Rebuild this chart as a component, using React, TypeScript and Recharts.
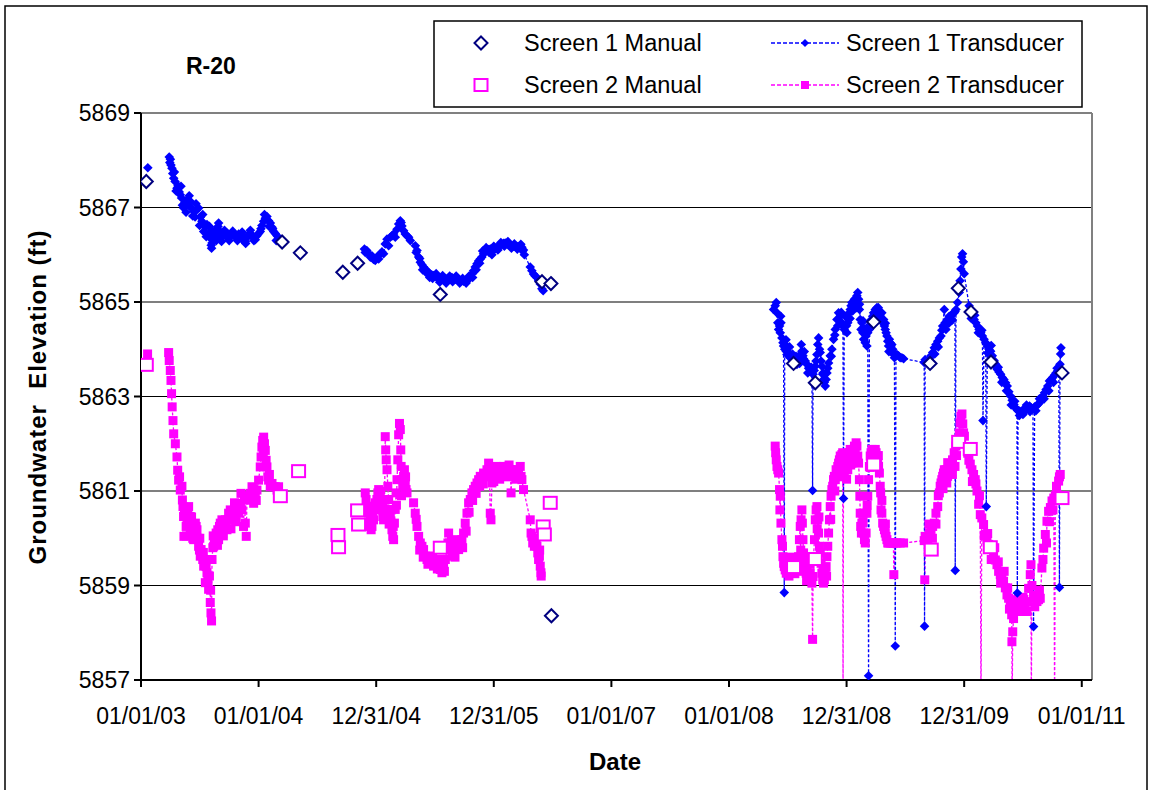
import * as React from "react"
import {
  CartesianGrid,
  ComposedChart,
  Line,
  ReferenceLine,
  Scatter,
  XAxis,
  YAxis,
} from "recharts"

type Pt = [number, number | null]

// x values are decimal years (365.25-day years, matching the axis major unit)
const xTicks = [2003, 2004, 2005, 2006, 2007, 2008, 2009, 2010, 2011]
const xTickLabels = [
  "01/01/03",
  "01/01/04",
  "12/31/04",
  "12/31/05",
  "01/01/07",
  "01/01/08",
  "12/31/08",
  "12/31/09",
  "01/01/11",
]
const yTicks = [5857, 5859, 5861, 5863, 5865, 5867, 5869]

const screen1Manual: Pt[] = [
  [2003.045, 5867.55], [2004.2, 5866.27], [2004.355, 5866.04], [2004.716, 5865.63],
  [2004.842, 5865.82], [2005.545, 5865.16], [2006.41, 5865.43], [2006.486, 5865.39],
  [2006.49, 5858.36], [2008.549, 5863.7], [2008.734, 5863.29], [2009.23, 5864.58],
  [2009.71, 5863.7], [2009.95, 5865.29], [2010.058, 5864.79], [2010.228, 5863.73],
  [2010.832, 5863.5],
]

const screen2Manual: Pt[] = [
  [2003.045, 5863.67], [2004.185, 5860.89], [2004.34, 5861.42], [2004.675, 5860.07],
  [2004.68, 5859.81], [2004.842, 5860.59], [2004.85, 5860.29], [2005.545, 5859.8],
  [2006.42, 5860.25], [2006.43, 5860.08], [2006.48, 5860.75], [2008.549, 5859.39],
  [2008.734, 5859.56], [2009.23, 5861.56], [2009.72, 5859.76], [2009.953, 5862.04],
  [2010.052, 5861.89], [2010.222, 5859.81], [2010.832, 5860.85],
]

const screen1Transducer: Pt[] = [
  [2003.058, 5867.84],
  [2003.15, null],
  [2003.24, 5868.07], [2003.245, 5867.95], [2003.25, 5868.02], [2003.255, 5867.9],
  [2003.263, 5867.83], [2003.27, 5867.72], [2003.278, 5867.62], [2003.284, 5867.75],
  [2003.29, 5867.55], [2003.298, 5867.35], [2003.306, 5867.41], [2003.315, 5867.46],
  [2003.325, 5867.33], [2003.334, 5867.27], [2003.34, 5867.45], [2003.345, 5867.2],
  [2003.352, 5867.05], [2003.363, 5866.99], [2003.375, 5867.1], [2003.383, 5866.9],
  [2003.391, 5867.16], [2003.405, 5867.05], [2003.41, 5867.25], [2003.419, 5867.13],
  [2003.432, 5866.98], [2003.44, 5866.82], [2003.448, 5866.92], [2003.46, 5866.8],
  [2003.468, 5867.08], [2003.475, 5866.95], [2003.49, 5866.99], [2003.498, 5866.62],
  [2003.505, 5866.8], [2003.518, 5866.71], [2003.525, 5866.85], [2003.533, 5866.49],
  [2003.547, 5866.58], [2003.555, 5866.38], [2003.561, 5866.64], [2003.575, 5866.45],
  [2003.582, 5866.6], [2003.589, 5866.35], [2003.597, 5866.2], [2003.6, 5866.14],
  [2003.604, 5866.25], [2003.61, 5866.5], [2003.618, 5866.4], [2003.632, 5866.42],
  [2003.64, 5866.3], [2003.646, 5866.55], [2003.655, 5866.6], [2003.66, 5866.67],
  [2003.667, 5866.5], [2003.674, 5866.35], [2003.685, 5866.28], [2003.69, 5866.4],
  [2003.703, 5866.45], [2003.71, 5866.52], [2003.717, 5866.4], [2003.731, 5866.46],
  [2003.745, 5866.42], [2003.75, 5866.3], [2003.76, 5866.4], [2003.774, 5866.43],
  [2003.78, 5866.5], [2003.788, 5866.42], [2003.8, 5866.38], [2003.816, 5866.4],
  [2003.82, 5866.3], [2003.83, 5866.44], [2003.844, 5866.39], [2003.858, 5866.33],
  [2003.86, 5866.48], [2003.872, 5866.38], [2003.887, 5866.28], [2003.89, 5866.24],
  [2003.9, 5866.36], [2003.915, 5866.43], [2003.929, 5866.46], [2003.93, 5866.52],
  [2003.943, 5866.4], [2003.957, 5866.36], [2003.96, 5866.3], [2003.972, 5866.32],
  [2003.986, 5866.4], [2004.0, 5866.45], [2004.014, 5866.49], [2004.02, 5866.55],
  [2004.028, 5866.62], [2004.043, 5866.71], [2004.05, 5866.85], [2004.057, 5866.77],
  [2004.071, 5866.81], [2004.085, 5866.72], [2004.09, 5866.6], [2004.1, 5866.67],
  [2004.114, 5866.58], [2004.12, 5866.55], [2004.128, 5866.49], [2004.142, 5866.45],
  [2004.15, 5866.3], [2004.157, 5866.4], [2004.17, 5866.35],
  [2004.5, null],
  [2004.9, 5866.12], [2004.907, 5866.05], [2004.92, 5866.09], [2004.936, 5866.02],
  [2004.95, 5865.95], [2004.964, 5865.98], [2004.978, 5865.9], [2004.992, 5865.88],
  [2005.006, 5865.95], [2005.021, 5865.91], [2005.035, 5866.02], [2005.049, 5866.06],
  [2005.063, 5866.02], [2005.077, 5866.23], [2005.092, 5866.33], [2005.106, 5866.19],
  [2005.12, 5866.37], [2005.134, 5866.4], [2005.148, 5866.44], [2005.162, 5866.37],
  [2005.177, 5866.54], [2005.191, 5866.65], [2005.205, 5866.72], [2005.212, 5866.68],
  [2005.219, 5866.61], [2005.233, 5866.51], [2005.247, 5866.44], [2005.262, 5866.4],
  [2005.276, 5866.37], [2005.29, 5866.3], [2005.333, 5866.19], [2005.347, 5866.09],
  [2005.361, 5865.95], [2005.375, 5865.84], [2005.389, 5865.79], [2005.403, 5865.74],
  [2005.417, 5865.7], [2005.432, 5865.66], [2005.446, 5865.62], [2005.46, 5865.59],
  [2005.474, 5865.57], [2005.488, 5865.56], [2005.502, 5865.54], [2005.517, 5865.52],
  [2005.531, 5865.51], [2005.545, 5865.49], [2005.559, 5865.49], [2005.573, 5865.46],
  [2005.588, 5865.45], [2005.602, 5865.48], [2005.616, 5865.49], [2005.63, 5865.5],
  [2005.644, 5865.52], [2005.658, 5865.49], [2005.672, 5865.48], [2005.687, 5865.49],
  [2005.7, 5865.47], [2005.715, 5865.45], [2005.729, 5865.45], [2005.743, 5865.44],
  [2005.757, 5865.45], [2005.772, 5865.45], [2005.786, 5865.48], [2005.8, 5865.52],
  [2005.814, 5865.59], [2005.828, 5865.66], [2005.842, 5865.74], [2005.857, 5865.81],
  [2005.871, 5865.87], [2005.885, 5865.91], [2005.899, 5865.95], [2005.913, 5866.02],
  [2005.927, 5866.06], [2005.942, 5866.09], [2005.956, 5866.11], [2005.97, 5866.12],
  [2005.984, 5866.0], [2005.998, 5866.09], [2006.012, 5866.14], [2006.027, 5866.16],
  [2006.041, 5866.18], [2006.055, 5866.2], [2006.069, 5866.22], [2006.083, 5866.24],
  [2006.097, 5866.25], [2006.112, 5866.24], [2006.126, 5866.22], [2006.14, 5866.2],
  [2006.154, 5866.19], [2006.168, 5866.18], [2006.182, 5866.17], [2006.196, 5866.18],
  [2006.21, 5866.17], [2006.225, 5866.17], [2006.239, 5866.16], [2006.253, 5866.1],
  [2006.26, 5866.0], [2006.31, 5865.74], [2006.324, 5865.66], [2006.338, 5865.59],
  [2006.352, 5865.55], [2006.367, 5865.52], [2006.381, 5865.45], [2006.395, 5865.38],
  [2006.409, 5865.28], [2006.42, 5865.24],
  // band spread, 2005-2006
  [2005.34, 5866.05], [2005.37, 5865.92], [2005.395, 5865.68], [2005.425, 5865.62],
  [2005.455, 5865.52], [2005.48, 5865.5], [2005.51, 5865.6], [2005.54, 5865.42],
  [2005.565, 5865.56], [2005.595, 5865.4], [2005.625, 5865.55], [2005.65, 5865.43],
  [2005.68, 5865.55], [2005.71, 5865.4], [2005.735, 5865.5], [2005.765, 5865.4],
  [2005.79, 5865.55], [2005.82, 5865.52], [2005.85, 5865.68], [2005.88, 5865.82],
  [2005.905, 5866.08], [2005.935, 5866.15], [2005.96, 5866.05], [2006.0, 5866.18],
  [2006.035, 5866.1], [2006.06, 5866.26], [2006.09, 5866.18], [2006.12, 5866.28],
  [2006.15, 5866.14], [2006.175, 5866.23], [2006.2, 5866.12], [2006.23, 5866.22],
  [2006.245, 5866.08],
  [2007.5, null],
  [2008.379, 5864.84], [2008.393, 5864.92], [2008.402, 5864.99], [2008.408, 5864.77],
  [2008.415, 5864.56], [2008.422, 5864.42], [2008.43, 5864.49], [2008.436, 5864.35],
  [2008.442, 5864.56], [2008.45, 5864.24], [2008.459, 5864.14], [2008.464, 5864.07],
  [2008.47, 5858.85], [2008.474, 5864.0], [2008.478, 5864.1], [2008.487, 5863.96],
  [2008.493, 5863.89], [2008.507, 5863.93], [2008.521, 5863.82], [2008.535, 5863.78],
  [2008.549, 5863.75], [2008.563, 5863.71], [2008.578, 5863.68], [2008.592, 5863.82],
  [2008.606, 5863.89], [2008.62, 5863.96], [2008.629, 5863.86], [2008.634, 5863.8],
  [2008.649, 5863.75], [2008.663, 5863.68], [2008.677, 5863.6], [2008.691, 5863.57],
  [2008.705, 5863.5], [2008.711, 5861.01], [2008.715, 5863.47], [2008.725, 5863.55],
  [2008.734, 5863.64], [2008.748, 5863.89], [2008.755, 5864.1], [2008.762, 5864.24],
  [2008.776, 5863.93], [2008.783, 5863.75], [2008.79, 5863.64], [2008.797, 5863.47],
  [2008.804, 5863.36], [2008.811, 5863.3], [2008.819, 5863.22], [2008.826, 5863.36],
  [2008.833, 5863.5], [2008.847, 5863.71], [2008.861, 5863.86], [2008.875, 5864.0],
  [2008.889, 5864.21], [2008.904, 5864.42], [2008.918, 5864.63], [2008.932, 5864.77],
  [2008.946, 5864.7], [2008.96, 5864.56], [2008.969, 5864.49], [2008.974, 5860.84],
  [2008.98, 5864.42], [2008.989, 5864.7], [2009.003, 5864.35], [2009.01, 5864.56],
  [2009.017, 5864.63], [2009.024, 5864.77], [2009.031, 5864.84], [2009.038, 5864.92],
  [2009.045, 5864.99], [2009.052, 5864.81], [2009.06, 5864.92], [2009.067, 5865.06],
  [2009.074, 5864.99], [2009.081, 5864.88], [2009.088, 5865.13], [2009.095, 5865.2],
  [2009.102, 5865.06], [2009.109, 5864.84], [2009.116, 5864.63], [2009.123, 5864.42],
  [2009.13, 5864.56], [2009.138, 5864.35], [2009.145, 5864.21], [2009.152, 5864.42],
  [2009.159, 5864.14], [2009.166, 5864.28], [2009.173, 5864.07], [2009.18, 5864.35],
  [2009.187, 5857.09], [2009.194, 5864.42], [2009.201, 5864.49], [2009.208, 5864.56],
  [2009.215, 5864.63], [2009.222, 5864.7], [2009.23, 5864.77], [2009.237, 5864.7],
  [2009.244, 5864.84], [2009.251, 5864.77], [2009.258, 5864.88], [2009.265, 5864.77],
  [2009.272, 5864.7], [2009.279, 5864.81], [2009.286, 5864.7], [2009.293, 5864.63],
  [2009.3, 5864.77], [2009.307, 5864.56], [2009.315, 5864.63], [2009.322, 5864.49],
  [2009.329, 5864.42], [2009.336, 5864.35], [2009.343, 5864.28], [2009.35, 5864.17],
  [2009.357, 5864.07], [2009.364, 5864.21], [2009.371, 5864.14], [2009.378, 5864.07],
  [2009.385, 5864.1], [2009.392, 5864.0], [2009.4, 5863.89], [2009.407, 5863.82],
  [2009.414, 5857.72], [2009.42, 5863.86], [2009.428, 5863.89], [2009.442, 5863.86],
  [2009.456, 5863.82], [2009.47, 5863.82], [2009.485, 5863.8], [2009.66, 5863.72],
  [2009.663, 5858.14], [2009.668, 5863.78], [2009.69, 5863.71], [2009.704, 5863.8],
  [2009.718, 5863.86], [2009.732, 5863.93], [2009.746, 5864.03], [2009.76, 5864.1],
  [2009.775, 5864.17], [2009.789, 5864.24], [2009.803, 5864.28], [2009.817, 5864.49],
  [2009.831, 5864.84], [2009.838, 5864.56], [2009.845, 5864.42], [2009.852, 5864.56],
  [2009.859, 5864.63], [2009.873, 5864.7], [2009.887, 5864.7], [2009.901, 5864.75],
  [2009.915, 5864.77], [2009.922, 5864.8], [2009.924, 5859.32], [2009.93, 5864.84],
  [2009.944, 5864.99], [2009.958, 5865.2], [2009.965, 5865.45], [2009.972, 5865.7],
  [2009.979, 5865.95], [2009.986, 5866.02], [2009.993, 5865.85], [2010.0, 5865.6],
  [2010.042, 5864.92], [2010.056, 5864.77], [2010.07, 5864.7], [2010.085, 5864.63],
  [2010.099, 5864.56], [2010.113, 5864.49], [2010.127, 5864.42], [2010.141, 5864.35],
  [2010.155, 5864.28], [2010.16, 5862.49], [2010.169, 5864.21], [2010.183, 5864.14],
  [2010.188, 5860.67], [2010.197, 5864.07], [2010.211, 5864.0], [2010.225, 5863.96],
  [2010.239, 5863.86], [2010.254, 5863.76], [2010.268, 5863.68], [2010.282, 5863.57],
  [2010.296, 5863.52], [2010.31, 5863.47], [2010.324, 5863.4], [2010.338, 5863.36],
  [2010.352, 5863.29], [2010.366, 5863.22], [2010.38, 5863.1], [2010.394, 5863.01],
  [2010.408, 5862.92], [2010.423, 5862.83], [2010.437, 5862.76], [2010.449, 5862.72],
  [2010.452, 5858.84], [2010.458, 5862.7], [2010.472, 5862.69], [2010.486, 5862.66],
  [2010.5, 5862.72], [2010.514, 5862.69], [2010.528, 5862.74], [2010.542, 5862.76],
  [2010.556, 5862.8], [2010.57, 5862.76], [2010.585, 5862.74], [2010.59, 5858.13],
  [2010.599, 5862.78], [2010.613, 5862.8], [2010.627, 5862.83], [2010.641, 5862.87],
  [2010.655, 5862.92], [2010.669, 5863.01], [2010.683, 5863.08], [2010.697, 5863.15],
  [2010.711, 5863.22], [2010.725, 5863.33], [2010.739, 5863.36], [2010.753, 5863.4],
  [2010.767, 5863.45], [2010.781, 5863.5], [2010.795, 5863.54], [2010.805, 5863.5],
  [2010.81, 5858.96], [2010.815, 5863.68], [2010.82, 5863.9], [2010.823, 5864.03],
  // band spread, 2008-2010
  [2008.44, 5864.7], [2008.485, 5864.2], [2008.515, 5864.05], [2008.54, 5863.9],
  [2008.57, 5863.85], [2008.6, 5863.7], [2008.615, 5864.1], [2008.64, 5863.95],
  [2008.67, 5863.5], [2008.7, 5863.62], [2008.74, 5863.75], [2008.77, 5864.0],
  [2008.8, 5863.5], [2008.84, 5863.6], [2008.87, 5863.85], [2008.9, 5864.3],
  [2008.925, 5864.5], [2008.955, 5864.78], [2009.0, 5864.5], [2009.03, 5864.65],
  [2009.055, 5864.95], [2009.11, 5864.95], [2009.14, 5864.6], [2009.17, 5864.45],
  [2009.2, 5864.6], [2009.24, 5864.6], [2009.27, 5864.88], [2009.3, 5864.6],
  [2009.33, 5864.55], [2009.36, 5863.95], [2009.39, 5863.95], [2009.72, 5863.72],
  [2009.75, 5863.9], [2009.78, 5864.05], [2009.81, 5864.4], [2009.87, 5864.55],
  [2009.9, 5864.62], [2010.06, 5864.65], [2010.09, 5864.72], [2010.12, 5864.35],
  [2010.15, 5864.4], [2010.2, 5863.92], [2010.23, 5864.08], [2010.26, 5863.65],
  [2010.29, 5863.62], [2010.32, 5863.3], [2010.36, 5863.12], [2010.4, 5862.82],
  [2010.43, 5862.9], [2010.47, 5862.6], [2010.5, 5862.62], [2010.53, 5862.82],
  [2010.56, 5862.68], [2010.61, 5862.7], [2010.64, 5862.95], [2010.68, 5862.95],
  [2010.72, 5863.12], [2010.76, 5863.3], [2010.79, 5863.6],
]

const screen2Transducer: Pt[] = [
  [2003.056, 5863.9],
  [2003.15, null],
  [2003.235, 5863.93], [2003.24, 5863.76], [2003.249, 5863.55], [2003.255, 5863.34],
  [2003.26, 5863.06], [2003.265, 5862.78], [2003.272, 5862.49], [2003.278, 5862.21],
  [2003.292, 5862.0], [2003.306, 5861.72], [2003.312, 5861.44], [2003.32, 5861.23],
  [2003.334, 5861.02], [2003.348, 5861.1], [2003.352, 5860.81], [2003.357, 5860.67],
  [2003.362, 5860.46], [2003.365, 5860.04], [2003.37, 5860.6], [2003.377, 5860.46],
  [2003.384, 5860.25], [2003.391, 5860.32], [2003.398, 5860.6], [2003.405, 5860.67],
  [2003.412, 5860.39], [2003.419, 5860.46], [2003.426, 5860.2], [2003.433, 5860.11],
  [2003.44, 5860.0], [2003.448, 5859.97], [2003.455, 5860.2], [2003.462, 5860.32],
  [2003.469, 5860.25], [2003.476, 5860.18], [2003.483, 5860.0], [2003.49, 5859.83],
  [2003.497, 5859.75], [2003.504, 5859.62], [2003.511, 5859.76], [2003.518, 5859.69],
  [2003.525, 5859.55], [2003.533, 5859.41], [2003.54, 5859.55], [2003.547, 5859.06],
  [2003.554, 5859.4], [2003.561, 5859.27], [2003.568, 5859.1], [2003.575, 5858.92],
  [2003.582, 5859.2], [2003.589, 5858.64], [2003.592, 5858.9], [2003.595, 5858.42],
  [2003.6, 5858.25], [2003.604, 5859.55], [2003.611, 5859.8], [2003.618, 5859.83],
  [2003.625, 5860.0], [2003.632, 5859.97], [2003.639, 5860.11], [2003.646, 5860.04],
  [2003.653, 5860.18], [2003.66, 5859.97], [2003.667, 5860.25], [2003.674, 5860.32],
  [2003.681, 5860.25], [2003.688, 5860.39], [2003.702, 5860.32], [2003.717, 5860.39],
  [2003.724, 5860.25], [2003.731, 5860.18], [2003.738, 5860.39], [2003.745, 5860.53],
  [2003.752, 5860.46], [2003.759, 5860.6], [2003.773, 5860.46], [2003.788, 5860.53],
  [2003.802, 5860.46], [2003.816, 5860.6], [2003.83, 5860.53], [2003.844, 5860.74],
  [2003.858, 5860.6], [2003.872, 5860.25], [2003.887, 5860.32], [2003.895, 5860.04],
  [2003.901, 5860.81], [2003.915, 5860.88], [2003.929, 5860.95], [2003.936, 5860.81],
  [2003.944, 5861.09], [2003.958, 5860.74], [2003.965, 5860.95], [2003.972, 5860.88],
  [2003.986, 5861.02], [2004.0, 5861.23], [2004.014, 5861.51], [2004.021, 5861.72],
  [2004.028, 5861.93], [2004.035, 5862.07], [2004.043, 5862.14], [2004.05, 5862.0],
  [2004.057, 5861.86], [2004.064, 5861.65], [2004.071, 5861.51], [2004.078, 5861.3],
  [2004.085, 5861.23], [2004.099, 5861.09], [2004.114, 5861.16], [2004.128, 5861.09],
  [2004.142, 5861.09], [2004.157, 5861.02], [2004.17, 5861.09],
  // band spread, 2003
  [2003.328, 5861.3], [2003.387, 5860.05], [2003.43, 5860.45], [2003.465, 5860.05],
  [2003.5, 5860.0], [2003.53, 5859.7], [2003.565, 5859.55], [2003.614, 5860.05],
  [2003.65, 5859.85], [2003.695, 5860.1], [2003.7, 5860.05], [2003.765, 5860.2],
  [2003.795, 5860.75], [2003.81, 5860.35], [2003.85, 5860.95], [2003.88, 5860.9],
  [2003.95, 5861.05], [2003.98, 5860.8], [2004.04, 5861.8], [2004.092, 5861.35],
  [2004.5, null],
  [2004.907, 5860.96], [2004.914, 5860.82], [2004.921, 5860.68], [2004.936, 5860.53],
  [2004.95, 5860.39], [2004.957, 5860.18], [2004.964, 5860.25], [2004.971, 5860.46],
  [2004.978, 5860.39], [2004.985, 5860.61], [2004.992, 5860.75], [2005.006, 5860.82],
  [2005.014, 5860.96], [2005.021, 5861.03], [2005.028, 5860.89], [2005.035, 5860.99],
  [2005.042, 5860.82], [2005.049, 5860.61], [2005.056, 5860.46], [2005.063, 5860.39],
  [2005.07, 5860.53], [2005.077, 5862.15], [2005.081, 5861.87], [2005.085, 5861.66],
  [2005.092, 5861.45], [2005.099, 5861.1], [2005.106, 5860.82], [2005.113, 5860.61],
  [2005.12, 5860.46], [2005.127, 5860.32], [2005.134, 5860.18], [2005.141, 5860.04],
  [2005.148, 5859.97], [2005.155, 5860.32], [2005.162, 5860.61], [2005.169, 5860.96],
  [2005.177, 5861.24], [2005.184, 5861.66], [2005.191, 5862.19], [2005.198, 5862.43],
  [2005.205, 5862.3], [2005.209, 5861.87], [2005.212, 5861.52], [2005.219, 5861.24],
  [2005.226, 5861.1], [2005.233, 5861.31], [2005.24, 5861.45], [2005.247, 5861.17],
  [2005.254, 5861.03], [2005.262, 5860.96], [2005.318, 5860.75], [2005.332, 5860.53],
  [2005.347, 5860.25], [2005.361, 5860.04], [2005.375, 5859.9], [2005.389, 5859.83],
  [2005.403, 5859.76], [2005.417, 5859.62], [2005.432, 5859.55], [2005.446, 5859.62],
  [2005.46, 5859.48], [2005.474, 5859.55], [2005.488, 5859.41], [2005.502, 5859.48],
  [2005.517, 5859.55], [2005.531, 5859.41], [2005.545, 5859.34], [2005.559, 5859.27],
  [2005.573, 5859.41], [2005.588, 5859.55], [2005.602, 5859.76], [2005.616, 5860.11],
  [2005.623, 5859.9], [2005.63, 5859.76], [2005.644, 5859.62], [2005.658, 5859.69],
  [2005.672, 5859.83], [2005.687, 5859.97], [2005.701, 5859.76], [2005.715, 5859.83],
  [2005.729, 5859.97], [2005.743, 5860.11], [2005.757, 5860.32], [2005.772, 5860.53],
  [2005.786, 5860.75], [2005.8, 5860.82], [2005.814, 5860.96], [2005.828, 5861.03],
  [2005.842, 5861.1], [2005.857, 5861.17], [2005.871, 5861.24], [2005.885, 5861.31],
  [2005.899, 5861.24], [2005.913, 5861.38], [2005.927, 5861.31], [2005.942, 5861.45],
  [2005.956, 5861.59], [2005.963, 5861.31], [2005.97, 5860.53], [2005.976, 5860.39],
  [2005.984, 5861.17], [2005.998, 5861.38], [2006.012, 5861.45], [2006.027, 5861.52],
  [2006.041, 5861.38], [2006.055, 5861.45], [2006.069, 5861.38], [2006.083, 5861.52],
  [2006.097, 5861.45], [2006.112, 5861.52], [2006.126, 5861.31], [2006.14, 5861.45],
  [2006.147, 5860.96], [2006.154, 5861.31], [2006.168, 5861.38], [2006.182, 5861.45],
  [2006.196, 5861.45], [2006.21, 5861.38], [2006.225, 5861.52], [2006.232, 5861.31],
  [2006.239, 5861.24], [2006.253, 5861.03], [2006.31, 5860.39], [2006.317, 5860.11],
  [2006.324, 5860.04], [2006.331, 5859.9], [2006.338, 5859.97], [2006.345, 5859.83],
  [2006.352, 5859.9], [2006.367, 5859.83], [2006.374, 5859.69], [2006.381, 5859.55],
  [2006.388, 5859.62], [2006.395, 5859.41], [2006.401, 5859.27], [2006.403, 5859.2],
  // band spread, 2005-2006
  [2004.93, 5860.25], [2004.96, 5860.55], [2005.0, 5860.6], [2005.03, 5860.7],
  [2005.06, 5860.7], [2005.11, 5860.3], [2005.145, 5860.25], [2005.172, 5860.7],
  [2005.215, 5860.9], [2005.25, 5861.3], [2005.34, 5860.4], [2005.37, 5859.75],
  [2005.4, 5859.6], [2005.44, 5859.45], [2005.48, 5859.62], [2005.52, 5859.35],
  [2005.555, 5859.45], [2005.58, 5859.3], [2005.61, 5859.9], [2005.64, 5859.95],
  [2005.67, 5859.6], [2005.7, 5859.95], [2005.735, 5859.8], [2005.765, 5860.15],
  [2005.79, 5860.55], [2005.82, 5860.8], [2005.85, 5860.95], [2005.88, 5861.1],
  [2005.91, 5861.15], [2005.95, 5861.3], [2006.0, 5861.2], [2006.05, 5861.25],
  [2006.1, 5861.3], [2006.13, 5861.55], [2006.19, 5861.25], [2006.22, 5861.3],
  [2006.36, 5860.0], [2006.39, 5859.75],
  [2007.5, null],
  [2008.393, 5861.95], [2008.397, 5861.81], [2008.402, 5861.66], [2008.408, 5861.52],
  [2008.415, 5861.45], [2008.422, 5861.38], [2008.43, 5861.03], [2008.433, 5860.6],
  [2008.436, 5860.89], [2008.442, 5860.32], [2008.45, 5859.97], [2008.455, 5859.83],
  [2008.459, 5859.61], [2008.465, 5859.47], [2008.47, 5859.4], [2008.478, 5859.33],
  [2008.487, 5859.26], [2008.5, 5859.4], [2008.507, 5859.4], [2008.521, 5859.47],
  [2008.535, 5859.4], [2008.549, 5859.4], [2008.563, 5859.47], [2008.578, 5859.4],
  [2008.592, 5859.61], [2008.599, 5859.97], [2008.606, 5860.25], [2008.613, 5860.39],
  [2008.62, 5860.6], [2008.624, 5860.32], [2008.629, 5859.97], [2008.634, 5859.69],
  [2008.641, 5859.47], [2008.649, 5859.33], [2008.656, 5859.26], [2008.663, 5859.33],
  [2008.67, 5859.26], [2008.677, 5859.19], [2008.684, 5859.12], [2008.691, 5859.26],
  [2008.698, 5859.19], [2008.705, 5859.05], [2008.711, 5857.86], [2008.715, 5859.19],
  [2008.719, 5859.61], [2008.727, 5859.97], [2008.734, 5860.39], [2008.741, 5860.6],
  [2008.748, 5860.67], [2008.755, 5860.39], [2008.762, 5860.11], [2008.769, 5859.83],
  [2008.776, 5859.69], [2008.783, 5859.47], [2008.79, 5859.26], [2008.797, 5859.12],
  [2008.804, 5859.05], [2008.811, 5859.12], [2008.819, 5859.26], [2008.826, 5859.4],
  [2008.833, 5859.61], [2008.84, 5859.83], [2008.847, 5860.11], [2008.854, 5860.39],
  [2008.861, 5860.67], [2008.868, 5860.89], [2008.875, 5861.03], [2008.882, 5861.1],
  [2008.889, 5861.24], [2008.896, 5861.31], [2008.904, 5861.24], [2008.911, 5861.45],
  [2008.918, 5861.38], [2008.925, 5861.52], [2008.932, 5861.59], [2008.939, 5861.66],
  [2008.946, 5861.74], [2008.953, 5861.66], [2008.96, 5861.77], [2008.967, 5861.81],
  [2008.97, 5856.5], [2008.974, 5861.52], [2008.981, 5861.38], [2008.989, 5861.52],
  [2008.996, 5861.59], [2009.003, 5861.52], [2009.01, 5861.45], [2009.017, 5861.59],
  [2009.024, 5861.81], [2009.031, 5861.88], [2009.038, 5861.74], [2009.045, 5861.59],
  [2009.052, 5861.81], [2009.06, 5861.88], [2009.067, 5861.95], [2009.074, 5861.88],
  [2009.081, 5862.02], [2009.088, 5861.95], [2009.095, 5861.74], [2009.102, 5861.59],
  [2009.109, 5861.24], [2009.113, 5860.89], [2009.116, 5860.53], [2009.12, 5860.25],
  [2009.126, 5860.11], [2009.13, 5860.32], [2009.138, 5860.53], [2009.145, 5860.11],
  [2009.152, 5859.97], [2009.159, 5859.9], [2009.166, 5860.11], [2009.173, 5860.53],
  [2009.18, 5860.89], [2009.187, 5861.24], [2009.194, 5861.52], [2009.201, 5861.74],
  [2009.208, 5861.81], [2009.215, 5861.88], [2009.222, 5861.81], [2009.23, 5861.74],
  [2009.237, 5861.81], [2009.244, 5861.88], [2009.251, 5861.81], [2009.258, 5861.74],
  [2009.265, 5861.59], [2009.272, 5861.52], [2009.279, 5861.38], [2009.286, 5861.1],
  [2009.29, 5860.96], [2009.293, 5860.6], [2009.3, 5860.53], [2009.307, 5860.32],
  [2009.315, 5860.25], [2009.322, 5860.18], [2009.329, 5860.11], [2009.336, 5860.04],
  [2009.343, 5859.97], [2009.35, 5859.9], [2009.357, 5859.9], [2009.371, 5859.9],
  [2009.385, 5859.9], [2009.398, 5859.9], [2009.402, 5859.23], [2009.414, 5859.9],
  [2009.428, 5859.9], [2009.456, 5859.9], [2009.485, 5859.9], [2009.66, 5859.95],
  [2009.665, 5859.12], [2009.668, 5860.04], [2009.69, 5859.97], [2009.704, 5860.11],
  [2009.718, 5860.18], [2009.732, 5860.25], [2009.746, 5860.32], [2009.76, 5860.53],
  [2009.775, 5860.67], [2009.789, 5860.96], [2009.796, 5861.1], [2009.803, 5861.17],
  [2009.81, 5861.24], [2009.817, 5861.31], [2009.824, 5861.38], [2009.831, 5861.45],
  [2009.838, 5861.31], [2009.845, 5861.45], [2009.852, 5861.17], [2009.859, 5861.31],
  [2009.866, 5861.45], [2009.873, 5861.38], [2009.887, 5861.45], [2009.894, 5861.52],
  [2009.901, 5861.66], [2009.915, 5861.81], [2009.922, 5861.52], [2009.93, 5861.95],
  [2009.944, 5862.09], [2009.958, 5862.23], [2009.965, 5862.44], [2009.972, 5862.58],
  [2009.981, 5862.63], [2009.988, 5862.42], [2009.995, 5862.23], [2010.002, 5862.16],
  [2010.03, 5861.8], [2010.052, 5861.57], [2010.066, 5861.45], [2010.08, 5861.35],
  [2010.094, 5861.24], [2010.109, 5861.0], [2010.123, 5860.72], [2010.137, 5860.5],
  [2010.143, 5856.5], [2010.15, 5860.43], [2010.165, 5860.29], [2010.18, 5860.08],
  [2010.194, 5859.97], [2010.208, 5859.87], [2010.222, 5859.83], [2010.236, 5859.76],
  [2010.25, 5859.65], [2010.265, 5859.54], [2010.279, 5859.44], [2010.293, 5859.3],
  [2010.307, 5859.23], [2010.321, 5859.16], [2010.335, 5859.09], [2010.35, 5858.95],
  [2010.364, 5858.8], [2010.378, 5858.73], [2010.392, 5858.66], [2010.399, 5858.52],
  [2010.404, 5858.38], [2010.406, 5857.81], [2010.408, 5856.5], [2010.413, 5858.02],
  [2010.42, 5858.3], [2010.435, 5858.45], [2010.449, 5858.52], [2010.463, 5858.73],
  [2010.477, 5858.66], [2010.492, 5858.59], [2010.506, 5858.52], [2010.52, 5858.59],
  [2010.534, 5858.66], [2010.548, 5858.94], [2010.562, 5859.23], [2010.568, 5859.44],
  [2010.571, 5856.5], [2010.576, 5859.0], [2010.59, 5858.8], [2010.605, 5858.73],
  [2010.619, 5858.66], [2010.633, 5858.7], [2010.647, 5858.73], [2010.661, 5859.37],
  [2010.676, 5859.79], [2010.69, 5860.08], [2010.704, 5860.36], [2010.718, 5860.57],
  [2010.733, 5860.65], [2010.747, 5860.79], [2010.762, 5860.85], [2010.769, 5856.5],
  [2010.775, 5860.9], [2010.789, 5860.93], [2010.803, 5861.21], [2010.81, 5861.3],
  [2010.817, 5861.35],
  // band spread, 2008-2010
  [2008.49, 5859.55], [2008.51, 5859.2], [2008.53, 5859.6], [2008.56, 5859.25],
  [2008.585, 5859.3], [2008.61, 5859.75], [2008.645, 5859.6], [2008.66, 5859.1],
  [2008.69, 5859.45], [2008.75, 5860.2], [2008.765, 5860.45], [2008.8, 5859.35],
  [2008.83, 5859.2], [2008.865, 5860.4], [2008.9, 5861.0], [2008.93, 5861.3],
  [2008.955, 5861.5], [2008.985, 5861.75], [2009.0, 5861.25], [2009.035, 5861.55],
  [2009.07, 5861.65], [2009.14, 5860.35], [2009.175, 5860.7], [2009.2, 5861.5],
  [2009.24, 5861.6], [2009.27, 5861.75], [2009.3, 5860.8], [2009.33, 5860.3],
  [2009.7, 5860.3], [2009.73, 5860.0], [2009.76, 5860.3], [2009.78, 5860.9],
  [2009.82, 5861.05], [2009.86, 5861.6], [2009.9, 5861.35], [2009.935, 5861.75],
  [2010.04, 5861.65], [2010.07, 5861.2], [2010.1, 5861.15], [2010.13, 5860.9],
  [2010.17, 5860.05], [2010.2, 5860.1], [2010.23, 5859.55], [2010.26, 5859.8],
  [2010.29, 5859.5], [2010.31, 5859.05], [2010.34, 5859.3], [2010.37, 5858.95],
  [2010.385, 5858.5], [2010.44, 5858.7], [2010.47, 5858.45], [2010.5, 5858.75],
  [2010.53, 5858.45], [2010.6, 5858.55], [2010.64, 5858.9], [2010.67, 5859.55],
  [2010.7, 5859.9], [2010.725, 5860.35], [2010.755, 5860.6], [2010.785, 5861.1],
]

const W = 1152
const H = 790
const FONT = "'Liberation Sans', Arial, sans-serif"
const BLUE = "#0000FF"
const MAGENTA = "#FF00FF"
const NAVY = "#000080"

// readings are listed by segment, so put them back in time order before plotting
const rows = (pts: Pt[]) =>
  [...pts].sort((a, b) => a[0] - b[0]).map(([x, y]) => ({ x, y }))

const diamondPath = (cx: number, cy: number, r: number) =>
  `M${cx},${cy - r}L${cx + r},${cy}L${cx},${cy + r}L${cx - r},${cy}Z`

const blueDot = (p: any) => {
  const key = `b-${p.index}`
  if (p.value == null || p.cx == null || p.cy == null) return <g key={key} />
  return <path key={key} d={diamondPath(p.cx, p.cy, 4.8)} fill={BLUE} />
}

const magentaDot = (p: any) => {
  const key = `m-${p.index}`
  if (p.value == null || p.cx == null || p.cy == null) return <g key={key} />
  return <rect key={key} x={p.cx - 4.5} y={p.cy - 4.5} width={9} height={9} fill={MAGENTA} />
}

const ManualDiamond = (p: any) => (
  <path d={diamondPath(p.cx, p.cy, 6.5)} fill="#fff" stroke={NAVY} strokeWidth={2} />
)

const ManualSquare = (p: any) => (
  <rect x={p.cx - 6.5} y={p.cy - 6} width={13} height={12} fill="#fff" stroke={MAGENTA} strokeWidth={2} />
)

const Overlay = () => (
  <svg
    width={W}
    height={H}
    style={{ position: "absolute", left: 0, top: 0, pointerEvents: "none" }}
    fontFamily={FONT}
  >
    <rect x={5} y={6} width={1142} height={820} fill="none" stroke="#000" strokeWidth={1.5} />
    <text x={186} y={74} fontSize={23} fontWeight="bold" fill="#000">R-20</text>
    <text x={615} y={770} fontSize={24} fontWeight="bold" textAnchor="middle" fill="#000">Date</text>
    <text
      transform="translate(46,397) rotate(-90)"
      fontSize={24}
      fontWeight="bold"
      letterSpacing={1}
      textAnchor="middle"
      fill="#000"
      style={{ whiteSpace: "pre" }}
    >
      {"Groundwater  Elevation (ft)"}
    </text>

    {/* legend */}
    <rect x={434} y={21} width={648} height={86} fill="#fff" stroke="#000" strokeWidth={1.5} />
    <path d={diamondPath(481, 43, 6.5)} fill="#fff" stroke={NAVY} strokeWidth={2} />
    <text x={524} y={51} fontSize={23.5} fill="#000">Screen 1 Manual</text>
    <rect x={474.5} y={79} width={13} height={12} fill="#fff" stroke={MAGENTA} strokeWidth={2} />
    <text x={524} y={93} fontSize={23.5} fill="#000">Screen 2 Manual</text>
    <line x1={771} y1={43} x2={839} y2={43} stroke={BLUE} strokeWidth={1.5} strokeDasharray="4 2" />
    <path d={diamondPath(805, 43, 4)} fill={BLUE} />
    <text x={846} y={51} fontSize={23.5} fill="#000">Screen 1 Transducer</text>
    <line x1={771} y1={85} x2={839} y2={85} stroke={MAGENTA} strokeWidth={1.5} strokeDasharray="4 2" />
    <rect x={801} y={81} width={8} height={8} fill={MAGENTA} />
    <text x={846} y={93} fontSize={23.5} fill="#000">Screen 2 Transducer</text>
  </svg>
)

export default function App() {
  const tickStyle = { fontSize: 23, fill: "#000", fontFamily: FONT }
  return (
    <div style={{ position: "absolute", left: 0, top: 0, width: W, height: H, background: "#fff" }}>
      <ComposedChart
        width={W}
        height={H}
        margin={{ top: 113, right: 60, bottom: 50, left: 81 }}
      >
        <CartesianGrid vertical={false} stroke="#000" strokeWidth={1.2} />
        <XAxis
          type="number"
          dataKey="x"
          domain={[2003, 2011.087]}
          allowDataOverflow
          ticks={xTicks}
          interval={0}
          tickFormatter={(v: number) => xTickLabels[xTicks.indexOf(v)] ?? ""}
          height={60}
          tickSize={7}
          tickMargin={21}
          tick={tickStyle}
          axisLine={{ stroke: "#000", strokeWidth: 2 }}
          tickLine={{ stroke: "#000", strokeWidth: 2 }}
        />
        <YAxis
          type="number"
          dataKey="y"
          domain={[5857, 5869]}
          allowDataOverflow
          ticks={yTicks}
          interval={0}
          width={60}
          tickSize={7}
          tickMargin={4}
          tick={tickStyle}
          axisLine={{ stroke: "#000", strokeWidth: 2 }}
          tickLine={{ stroke: "#000", strokeWidth: 2 }}
        />
        <ReferenceLine y={5869} stroke="#808080" strokeWidth={2} />
        <ReferenceLine x={2011.087} stroke="#808080" strokeWidth={2} />
        <Line
          data={rows(screen2Transducer)}
          dataKey="y"
          type="linear"
          stroke={MAGENTA}
          strokeWidth={1.3}
          strokeDasharray="3 2"
          dot={magentaDot}
          activeDot={false}
          isAnimationActive={false}
        />
        <Line
          data={rows(screen1Transducer)}
          dataKey="y"
          type="linear"
          stroke={BLUE}
          strokeWidth={1.3}
          strokeDasharray="3 2"
          dot={blueDot}
          activeDot={false}
          isAnimationActive={false}
        />
        <Scatter data={rows(screen2Manual)} shape={ManualSquare} isAnimationActive={false} />
        <Scatter data={rows(screen1Manual)} shape={ManualDiamond} isAnimationActive={false} />
      </ComposedChart>
      <Overlay />
    </div>
  )
}
